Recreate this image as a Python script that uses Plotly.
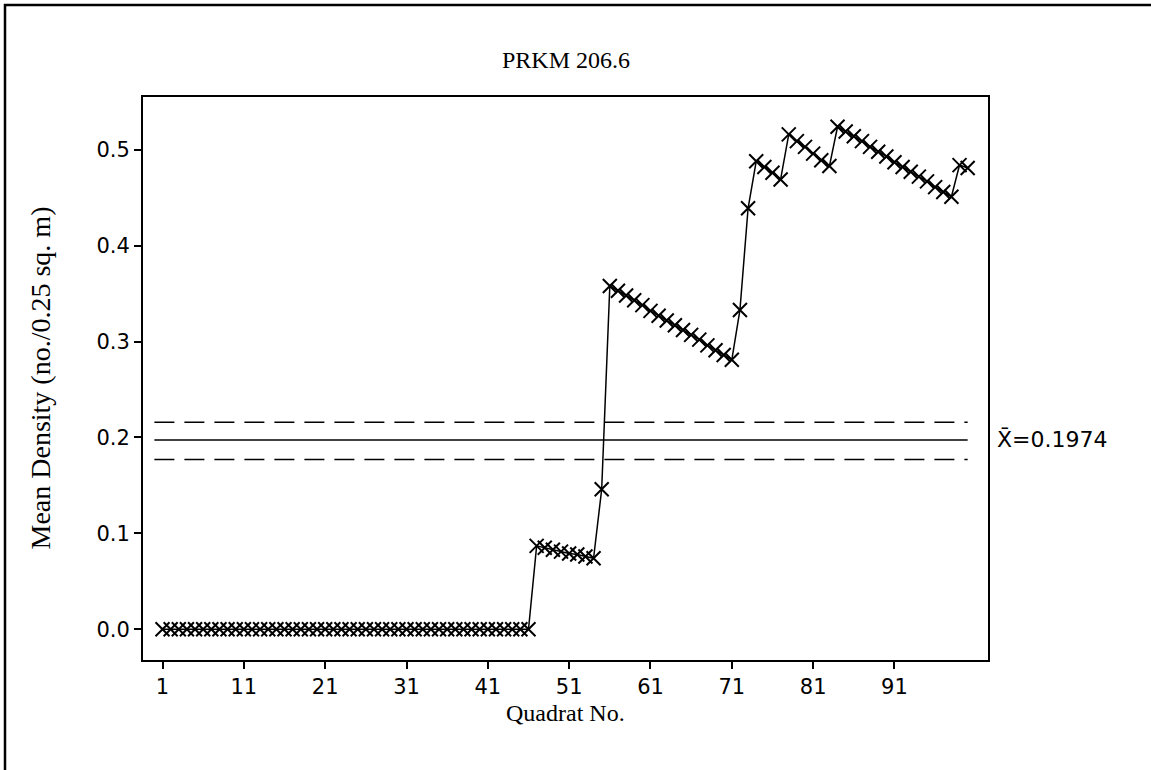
import plotly.graph_objects as go

# Quadrat numbers and running mean density per quadrat
quadrat = list(range(1, 101))
density = (
    [0.0] * 46
    + [0.087, 0.085, 0.083, 0.081, 0.079, 0.078, 0.076, 0.074]
    + [0.146]
    + [0.358, 0.353, 0.348, 0.343, 0.338, 0.332, 0.327, 0.322,
       0.317, 0.312, 0.307, 0.302, 0.296, 0.291, 0.286, 0.281]
    + [0.333, 0.439]
    + [0.488, 0.482, 0.476, 0.469]
    + [0.516, 0.509, 0.503, 0.496, 0.489, 0.483]
    + [0.524, 0.519, 0.514, 0.509, 0.503, 0.498, 0.493, 0.487,
       0.482, 0.477, 0.472, 0.467, 0.461, 0.456, 0.451]
    + [0.484, 0.481]
)

mean_value = 0.1974
upper_limit = 0.216
lower_limit = 0.177
line_span = [0, 100]

x_ticks = [1, 11, 21, 31, 41, 51, 61, 71, 81, 91]
y_ticks = [0.0, 0.1, 0.2, 0.3, 0.4, 0.5]

W, H = 1151, 770
ML, MR, MT, MB = 143, 163, 97, 110
PW, PH = W - ML - MR, H - MT - MB


def px_x(p):
    return (p - ML) / PW


def px_y(p):
    return (H - MB - p) / PH


fig = go.Figure()

fig.add_trace(go.Scatter(
    x=line_span, y=[upper_limit, upper_limit], mode="lines",
    line=dict(color="black", width=1.5, dash="20px,10px"),
    hoverinfo="skip", showlegend=False))
fig.add_trace(go.Scatter(
    x=line_span, y=[lower_limit, lower_limit], mode="lines",
    line=dict(color="black", width=1.5, dash="20px,10px"),
    hoverinfo="skip", showlegend=False))
fig.add_trace(go.Scatter(
    x=line_span, y=[mean_value, mean_value], mode="lines",
    line=dict(color="black", width=1.5),
    hoverinfo="skip", showlegend=False))

fig.add_trace(go.Scatter(
    x=quadrat, y=density, mode="lines+markers",
    line=dict(color="black", width=1.5),
    marker=dict(symbol="x-thin", size=14, color="black",
                line=dict(color="black", width=2)),
    showlegend=False))

serif = "Liberation Serif, Times New Roman, serif"
sans = "DejaVu Sans, Verdana, sans-serif"

fig.update_layout(
    width=W, height=H,
    margin=dict(l=ML, r=MR, t=MT, b=MB),
    paper_bgcolor="white", plot_bgcolor="white",
    xaxis=dict(range=[-1.4, 102.5], tickvals=x_ticks,
               ticks="outside", ticklen=7, tickwidth=2, tickcolor="black",
               showline=True, linewidth=2, linecolor="black", mirror=True,
               showgrid=False, zeroline=False,
               tickfont=dict(family=sans, size=21, color="black")),
    yaxis=dict(range=[-0.032, 0.555], tickvals=y_ticks, tickformat=".1f",
               ticks="outside", ticklen=7, tickwidth=2, tickcolor="black",
               showline=True, linewidth=2, linecolor="black", mirror=True,
               showgrid=False, zeroline=False,
               tickfont=dict(family=sans, size=21, color="black")),
    shapes=[dict(type="rect", xref="paper", yref="paper",
                 x0=px_x(5), x1=px_x(W + 20), y0=px_y(H + 20), y1=px_y(5),
                 line=dict(color="black", width=2.5), layer="below")],
    annotations=[
        dict(text="PRKM 206.6", xref="paper", yref="paper",
             x=0.5, y=px_y(60), showarrow=False,
             xanchor="center", yanchor="middle",
             font=dict(family=serif, size=24, color="black")),
        dict(text="Quadrat No.", xref="paper", yref="paper",
             x=0.5, y=px_y(713), showarrow=False,
             xanchor="center", yanchor="middle",
             font=dict(family=serif, size=24, color="black")),
        dict(text="Mean Density (no./0.25 sq. m)", xref="paper", yref="paper",
             x=px_x(40), y=0.5, showarrow=False, textangle=-90,
             xanchor="center", yanchor="middle",
             font=dict(family=serif, size=28, color="black")),
        dict(text="X\u0304=0.1974", xref="paper", yref="y",
             x=px_x(995), y=mean_value, showarrow=False,
             xanchor="left", yanchor="middle",
             font=dict(family=sans, size=22, color="black")),
    ],
)

fig.write_html("out.html")
